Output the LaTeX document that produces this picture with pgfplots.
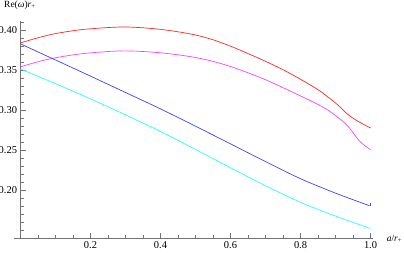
\documentclass[border=0pt]{standalone}
\usepackage{fontspec}
\setmainfont{Liberation Serif}
\usepackage{pgfplots}
\pgfplotsset{compat=1.18}
\definecolor{cred}{rgb}{1,0.15,0.15}
\definecolor{cmag}{rgb}{1,0.25,1}
\definecolor{cblue}{rgb}{0.25,0.25,1}
\definecolor{ccyan}{rgb}{0.15,1,1}
\definecolor{axgray}{rgb}{0.45,0.45,0.45}
\begin{document}
\begin{tikzpicture}
\begin{axis}[
  at={(0,0)}, anchor=south west,
  scale only axis, width=359.5bp, height=217.3bp,
  xmin=-0.02, xmax=1.007, ymin=0.14, ymax=0.412,
  axis x line=bottom, axis y line=middle,
  axis line style={-, draw=axgray, line width=0.6pt},
  tick style={draw=axgray, line width=0.7pt},
  xtick align=inside, ytick align=inside,
  major tick length=5bp, minor tick length=3bp,
  xtick={0.2,0.4,0.6,0.8,1.0},
  ytick={0.20,0.25,0.30,0.35,0.40},
  minor xtick={0.05,0.1,0.15,0.25,0.3,0.35,0.45,0.5,0.55,0.65,0.7,0.75,0.85,0.9,0.95},
  minor ytick={0.15,0.16,0.17,0.18,0.19,0.21,0.22,0.23,0.24,0.26,0.27,0.28,0.29,0.31,0.32,0.33,0.34,0.36,0.37,0.38,0.39,0.41},
  xticklabel style={/pgf/number format/.cd, fixed, fixed zerofill, precision=1},
  yticklabel style={/pgf/number format/.cd, fixed, fixed zerofill, precision=2},
  /pgf/number format/assume math mode=true,
  ticklabel style={font=\fontsize{10.5}{12}\selectfont, text=black},
  clip=false,
]
\addplot[cred, line width=0.7pt, smooth] coordinates {
(0,0.3846)(0.05,0.391)(0.1,0.3962)(0.17,0.401)(0.25,0.4038)(0.30,0.4045)(0.35,0.4035)(0.40,0.4015)(0.45,0.3985)(0.50,0.3945)(0.55,0.3885)(0.60,0.3805)(0.65,0.3712)(0.70,0.3615)(0.75,0.351)(0.80,0.339)(0.85,0.326)(0.894,0.3115)(0.915,0.3035)(0.933,0.2958)(0.96,0.2875)(1.0,0.278)};
\addplot[cmag, line width=0.7pt, smooth] coordinates {
(0,0.3546)(0.05,0.361)(0.1,0.366)(0.17,0.3708)(0.25,0.3738)(0.30,0.3746)(0.35,0.3738)(0.40,0.3722)(0.45,0.3697)(0.50,0.3663)(0.55,0.3615)(0.60,0.355)(0.65,0.3472)(0.70,0.3385)(0.75,0.3285)(0.80,0.3182)(0.85,0.3075)(0.88,0.300)(0.90,0.2935)(0.923,0.2855)(0.94,0.278)(0.952,0.271)(0.963,0.2645)(0.975,0.259)(0.988,0.2545)(1.0,0.251)};
\addplot[cblue, line width=0.7pt, smooth] coordinates {
(0,0.3834)(0.1,0.3632)(0.2,0.343)(0.3,0.3225)(0.4,0.302)(0.5,0.2803)(0.6,0.2582)(0.7,0.236)(0.8,0.2146)(0.9,0.1965)(0.997,0.1808)};
\addplot[cblue, line width=0.7pt] coordinates {(0.997,0.1808)(1.0,0.1808)(1.0,0.1848)};
\addplot[ccyan, line width=0.7pt, smooth] coordinates {
(0,0.352)(0.1,0.3335)(0.2,0.3145)(0.3,0.2945)(0.4,0.2737)(0.5,0.2512)(0.6,0.2283)(0.7,0.2058)(0.8,0.185)(0.9,0.1678)(1.0,0.1522)};
\end{axis}
\node[anchor=west, inner sep=0pt, font=\fontsize{9.5}{11}\selectfont] at (-9.5bp,233.3bp) {Re(\textit{ω})\textit{r}\textsubscript{+}};
\node[inner sep=0pt, font=\fontsize{9.5}{11}\selectfont] at (381bp,-0.7bp) {\textit{a}/\textit{r}\textsubscript{+}};
\pgfresetboundingbox
\path[use as bounding box] (-13.5bp,-14.7bp) rectangle (390.5bp,238.3bp);
\end{tikzpicture}
\end{document}
